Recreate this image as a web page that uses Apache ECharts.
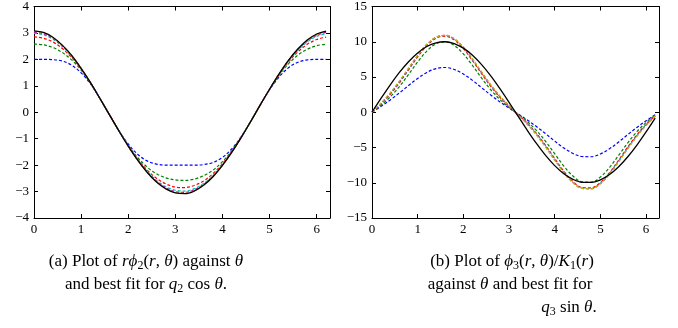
<!DOCTYPE html>
<html><head><meta charset="utf-8">
<script src="https://cdn.jsdelivr.net/npm/echarts@6/dist/echarts.min.js"></script>
<style>html,body{margin:0;padding:0;background:#fff}#c{width:678px;height:328px}</style>
</head><body><div id="c"></div>
<script>
const theta = [0,0.2,0.4,0.6,0.8,1.0,1.2,1.4,1.6,1.8,2.0,2.2,2.4,2.6,2.8,3.0,3.2,3.4,3.6,3.8,4.0,4.2,4.4,4.6,4.8,5.0,5.2,5.4,5.6,5.8,6.0,6.2];

const leftBlue = [2.00,2.00,1.99,1.94,1.78,1.49,1.07,0.52,-0.09,-0.69,-1.20,-1.59,-1.84,-1.96,-2.00,-2.00,-2.00,-2.00,-1.98,-1.90,-1.71,-1.38,-0.92,-0.34,0.27,0.85,1.33,1.68,1.89,1.98,2.00,2.00];
const leftGreen = [2.58,2.55,2.45,2.26,1.98,1.59,1.09,0.52,-0.09,-0.69,-1.25,-1.71,-2.07,-2.33,-2.48,-2.56,-2.58,-2.53,-2.40,-2.19,-1.87,-1.45,-0.93,-0.35,0.27,0.86,1.39,1.83,2.16,2.38,2.52,2.57];
const leftRed = [2.85,2.80,2.66,2.41,2.07,1.63,1.11,0.52,-0.09,-0.70,-1.27,-1.77,-2.18,-2.50,-2.71,-2.83,-2.85,-2.77,-2.60,-2.32,-1.95,-1.48,-0.94,-0.35,0.27,0.87,1.42,1.90,2.28,2.57,2.75,2.84];
const leftCyan = [2.98,2.93,2.76,2.49,2.11,1.65,1.11,0.52,-0.09,-0.70,-1.27,-1.79,-2.23,-2.58,-2.82,-2.95,-2.98,-2.89,-2.69,-2.39,-1.99,-1.50,-0.94,-0.35,0.27,0.87,1.43,1.93,2.34,2.66,2.87,2.97];
const leftMagenta = [3.03,2.97,2.80,2.51,2.13,1.66,1.11,0.52,-0.09,-0.70,-1.28,-1.80,-2.25,-2.61,-2.86,-3.00,-3.03,-2.93,-2.73,-2.41,-2.00,-1.50,-0.95,-0.35,0.27,0.87,1.44,1.94,2.37,2.69,2.91,3.02];
const leftYellow = [3.06,3.00,2.82,2.53,2.14,1.66,1.12,0.52,-0.09,-0.70,-1.28,-1.81,-2.26,-2.63,-2.89,-3.03,-3.06,-2.96,-2.75,-2.43,-2.01,-1.51,-0.95,-0.35,0.27,0.87,1.44,1.95,2.38,2.71,2.94,3.05];
const leftBlack = [3.08,3.02,2.84,2.54,2.15,1.66,1.12,0.52,-0.09,-0.70,-1.28,-1.81,-2.27,-2.64,-2.90,-3.05,-3.08,-2.98,-2.76,-2.44,-2.01,-1.51,-0.95,-0.35,0.27,0.87,1.44,1.96,2.39,2.73,2.96,3.07];

const rightBlue = [0,0.84,1.75,2.74,3.79,4.80,5.65,6.19,6.35,6.07,5.43,4.52,3.48,2.44,1.47,0.59,-0.24,-1.10,-2.03,-3.04,-4.09,-5.07,-5.85,-6.28,-6.31,-5.92,-5.18,-4.22,-3.17,-2.15,-1.21,-0.35];
const rightGreen = [0,1.00,2.18,3.65,5.36,7.14,8.68,9.71,9.99,9.48,8.27,6.63,4.85,3.19,1.80,0.69,-0.28,-1.31,-2.58,-4.13,-5.89,-7.63,-9.05,-9.87,-9.92,-9.19,-7.83,-6.11,-4.34,-2.75,-1.46,-0.40];
const rightRed = [0,1.19,2.55,4.18,6.01,7.86,9.45,10.50,10.79,10.27,9.03,7.33,5.46,3.68,2.13,0.83,-0.34,-1.57,-3.00,-4.70,-6.56,-8.37,-9.83,-10.67,-10.72,-9.97,-8.57,-6.79,-4.92,-3.20,-1.73,-0.49];
const rightCyan = [0,1.25,2.66,4.31,6.15,7.99,9.57,10.60,10.89,10.37,9.16,7.47,5.60,3.80,2.22,0.87,-0.36,-1.64,-3.12,-4.83,-6.70,-8.50,-9.94,-10.77,-10.82,-10.08,-8.70,-6.93,-5.06,-3.32,-1.81,-0.51];
const rightMagenta = [0,1.27,2.70,4.36,6.20,8.04,9.61,10.64,10.92,10.41,9.20,7.52,5.65,3.85,2.26,0.89,-0.36,-1.67,-3.16,-4.88,-6.75,-8.54,-9.98,-10.80,-10.85,-10.12,-8.74,-6.98,-5.11,-3.36,-1.84,-0.52];
const rightYellow = [0,1.31,2.76,4.43,6.27,8.09,9.63,10.64,10.92,10.42,9.23,7.57,5.72,3.92,2.32,0.92,-0.38,-1.71,-3.23,-4.96,-6.81,-8.58,-10.00,-10.80,-10.85,-10.13,-8.78,-7.04,-5.18,-3.43,-1.89,-0.54];
const rightBlack = [0,1.99,3.89,5.65,7.17,8.41,9.32,9.85,10.00,9.74,9.09,8.09,6.76,5.16,3.35,1.41,-0.58,-2.56,-4.43,-6.12,-7.57,-8.72,-9.52,-9.94,-9.96,-9.59,-8.84,-7.73,-6.31,-4.65,-2.79,-0.83];

const xMax = 6.2832;
const leftY = {min: -4, max: 4, interval: 1};
const rightY = {min: -15, max: 15, interval: 5};

const FONT = 'Liberation Serif';
const fmt = v => (Math.abs(v - Math.round(v)) < 1e-6) ? String(Math.round(v)).replace('-', '\u2212') : '';

function xAx(g, pos) {
  return {
    gridIndex: g, type: 'value', position: pos, min: 0, max: xMax, interval: 1,
    axisLine: {show: true, onZero: false, lineStyle: {color: '#000', width: 1}},
    axisTick: {show: true, inside: true, length: 4, lineStyle: {color: '#000'}},
    axisLabel: {show: pos === 'bottom', formatter: fmt, fontFamily: FONT, fontSize: 13, color: '#000', margin: 5},
    splitLine: {show: false}
  };
}
function yAx(g, pos, r) {
  return {
    gridIndex: g, type: 'value', position: pos, min: r.min, max: r.max, interval: r.interval,
    axisLine: {show: true, onZero: false, lineStyle: {color: '#000', width: 1}},
    axisTick: {show: true, inside: true, length: 4, lineStyle: {color: '#000'}},
    axisLabel: {show: pos === 'left', formatter: fmt, fontFamily: FONT, fontSize: 13, color: '#000', margin: 5},
    splitLine: {show: false}
  };
}

const colors = {blue: '#0000FF', green: '#008000', red: '#FF0000', cyan: '#00BFBF', magenta: '#BF00BF', yellow: '#BFBF00', black: '#000000'};

function ser(arr, color, xi, yi, dashed) {
  return {
    type: 'line', xAxisIndex: xi, yAxisIndex: yi, showSymbol: false, smooth: 0.35, silent: true,
    data: theta.map((t, i) => [t, arr[i]]),
    lineStyle: {color: color, width: dashed ? 1.2 : 1.3, type: dashed ? [3, 2] : 'solid'},
    z: dashed ? 2 : 3
  };
}

const series = [
  ser(leftBlue, colors.blue, 0, 0, true),
  ser(leftGreen, colors.green, 0, 0, true),
  ser(leftRed, colors.red, 0, 0, true),
  ser(leftCyan, colors.cyan, 0, 0, true),
  ser(leftMagenta, colors.magenta, 0, 0, true),
  ser(leftYellow, colors.yellow, 0, 0, true),
  ser(leftBlack, colors.black, 0, 0, false),
  ser(rightBlue, colors.blue, 2, 2, true),
  ser(rightGreen, colors.green, 2, 2, true),
  ser(rightRed, colors.red, 2, 2, true),
  ser(rightCyan, colors.cyan, 2, 2, true),
  ser(rightMagenta, colors.magenta, 2, 2, true),
  ser(rightYellow, colors.yellow, 2, 2, true),
  ser(rightBlack, colors.black, 2, 2, false)
];

const rich = {
  n: {fontFamily: FONT, fontSize: 17, fill: '#000', lineHeight: 20},
  i: {fontFamily: FONT, fontSize: 17, fontStyle: 'italic', fill: '#000', lineHeight: 20},
  s: {fontFamily: FONT, fontSize: 12, fill: '#000', lineHeight: 13, verticalAlign: 'bottom'}
};
function cap(x, y, text) {
  return {type: 'text', x: x, y: y, silent: true,
    style: {text: text, rich: rich, align: 'center', verticalAlign: 'middle', fontFamily: FONT, fontSize: 17, fill: '#000'}};
}

const option = {
  animation: false,
  backgroundColor: '#fff',
  grid: [
    {left: 34, right: 348, top: 6, bottom: 110, show: false},
    {left: 372, right: 19, top: 6, bottom: 110, show: false}
  ],
  xAxis: [xAx(0, 'bottom'), xAx(0, 'top'), xAx(1, 'bottom'), xAx(1, 'top')],
  yAxis: [yAx(0, 'left', leftY), yAx(0, 'right', leftY), yAx(1, 'left', rightY), yAx(1, 'right', rightY)],
  series: series,
  graphic: [
    cap(146, 262, '{n|(a) Plot of }{i|r\u03D5}{s|2}{n|(}{i|r}{n|, }{i|\u03B8}{n|) against }{i|\u03B8}'),
    cap(146, 285, '{n|and best fit for }{i|q}{s|2}{n| cos }{i|\u03B8}{n|.}'),
    cap(512, 262, '{n|(b) Plot of }{i|\u03D5}{s|3}{n|(}{i|r}{n|, }{i|\u03B8}{n|)/}{i|K}{s|1}{n|(}{i|r}{n|)}'),
    cap(510, 285, '{n|against }{i|\u03B8}{n| and best fit for}'),
    cap(569, 308, '{i|q}{s|3}{n| sin }{i|\u03B8}{n|.}')
  ]
};
const chart = echarts.init(document.getElementById('c'), null, {renderer: 'canvas'});
chart.setOption(option);
</script>
</body></html>
